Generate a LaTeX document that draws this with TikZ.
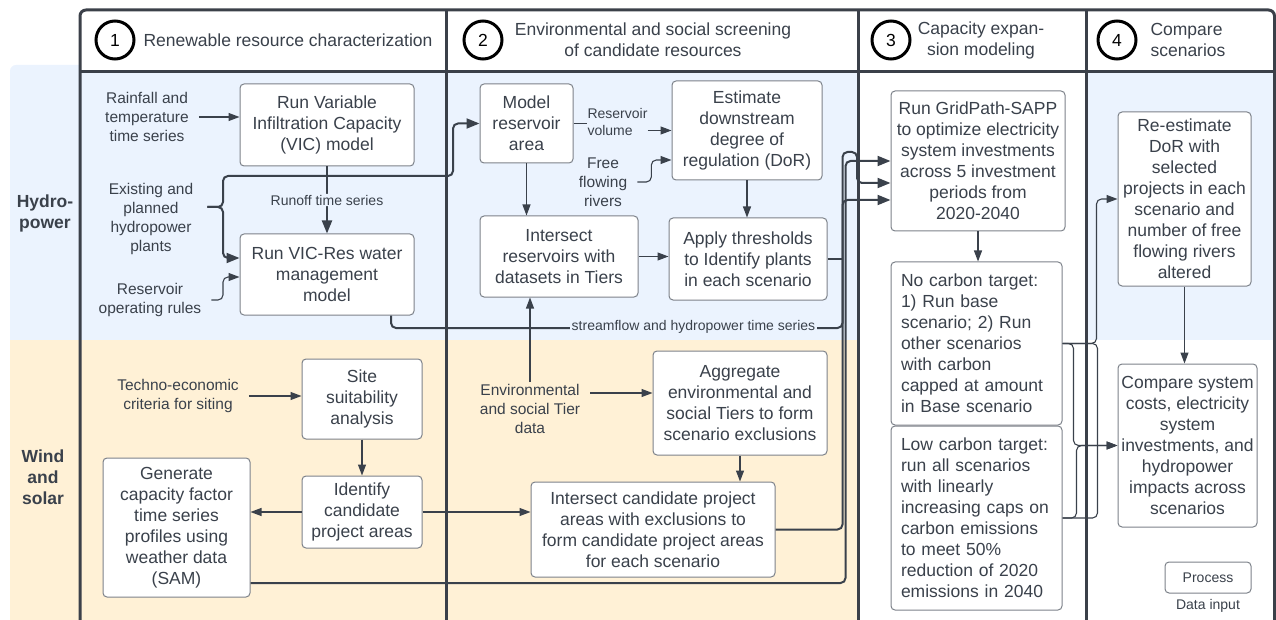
\documentclass[tikz,border=0pt]{standalone}
\usepackage{fontspec}
\setmainfont{Liberation Sans}
\usepackage{tikz}
\usetikzlibrary{arrows.meta}

\definecolor{ink}{HTML}{3A414B}
\definecolor{edgeink}{HTML}{3B4049}
\definecolor{boxgray}{HTML}{7D828A}
\definecolor{hydro}{HTML}{EBF3FE}
\definecolor{windsolar}{HTML}{FFF1D6}

\newcommand{\procfont}{\fontsize{17.5}{21}\selectfont}
\newcommand{\datafont}{\fontsize{15.5}{19}\selectfont}
\newcommand{\notefont}{\fontsize{14}{17}\selectfont}

\tikzset{
	proc/.style={draw=boxgray, fill=white, line width=1pt, rounded corners=4pt, align=center, font=\procfont, text=ink, inner sep=0pt},
	datain/.style={align=center, font=\datafont, text=ink, inner xsep=10pt, inner ysep=2pt},
	note/.style={font=\notefont, text=ink, inner sep=1pt},
	flow/.style={draw=ink, line width=2pt, rounded corners=5pt, >={Triangle[length=13pt,width=10pt]}},
	link/.style={draw=ink, line width=1.1pt, rounded corners=5pt, >={Triangle[length=11pt,width=8pt]}},
	numring/.style={circle, draw=black, line width=3pt, minimum size=38pt, inner sep=0pt, font=\procfont},
	colhead/.style={font=\procfont, text=ink, align=center},
	rowhead/.style={font=\procfont\bfseries, text=ink, align=center},
	colrule/.style={draw=edgeink, line width=3pt},
}

\begin{document}
\begin{tikzpicture}[x=1pt, y=-1pt]
	\useasboundingbox (0,0) rectangle (1276,620);

	% row bands
	\fill[hydro, rounded corners=6pt] (10,65) rectangle (859,400);
	\fill[windsolar] (10,340) rectangle (859,620);
	\fill[hydro] (1086,72) rectangle (1276,340);
	\fill[white] (80,10) rectangle (1274.5,72);

	\draw[colrule, rounded corners=6pt] (80,620) -- (80,10) -- (1274.5,10) -- (1274.5,620);
	\draw[colrule] (80,72) -- (1274.5,72);
	\draw[colrule] (446,10) -- (446,620);
	\draw[colrule] (858.5,10) -- (858.5,620);
	\draw[colrule] (1086,10) -- (1086,620);

	\node[rowhead] at (45,213) (hydrolbl) {Hydro-\\power};
	\node[rowhead] at (43,477) (windlbl) {Wind\\and\\solar};

	\node[numring] at (115,40) (num1) {1};
	\node[colhead, anchor=west] at (140,40) (head1) {Renewable resource characterization};
	\node[numring] at (483,40) (num2) {2};
	\node[colhead] at (653,40) (head2) {Environmental and social screening\\of candidate resources};
	\node[numring] at (891,40) (num3) {3};
	\node[colhead] at (981,40) (head3) {Capacity expan-\\sion modeling};
	\node[numring] at (1117,40) (num4) {4};
	\node[colhead, anchor=west, align=left] at (1147,40) (head4) {Compare\\scenarios};

	% hydropower
	\node[datain] at (147,117) (rain) {Rainfall and\\temperature\\time series};
	\node[datain, inner xsep=14pt] at (151,219) (exist) {Existing and\\planned\\hydropower\\plants};
	\node[datain] at (150,300) (oprules) {Reservoir\\operating rules};
	\node[proc, minimum width=174pt, minimum height=82pt] at (327,125) (vic) {Run Variable\\Infiltration Capacity\\(VIC) model};
	\node[proc, minimum width=174pt, minimum height=81pt] at (327,274.5) (vicres) {Run VIC-Res water\\management\\model};

	\node[proc, minimum width=93pt, minimum height=79pt] at (526.5,123.5) (model) {Model\\reservoir\\area};
	\node[proc, minimum width=150pt, minimum height=99pt] at (747,130.5) (dor) {Estimate\\downstream\\degree of\\regulation (DoR)};
	\node[proc, minimum width=158pt, minimum height=81pt] at (559,256.5) (intres) {Intersect\\reservoirs with\\datasets in Tiers};
	\node[proc, minimum width=158pt, minimum height=82pt] at (748,259) (apply) {Apply thresholds\\to Identify plants\\in each scenario};
	\node[note, align=left, inner sep=0pt] at (617.5,121.5) (resvol) {Reservoir\\volume};
	\node[datain] at (603,182) (freeflow) {Free\\flowing\\rivers};

	% wind and solar
	\node[datain] at (178,396) (techno) {Techno-economic\\criteria for siting};
	\node[proc, minimum width=120pt, minimum height=80pt] at (362,399) (site) {Site\\suitability\\analysis};
	\node[proc, minimum width=120pt, minimum height=72pt] at (362,512) (ident) {Identify\\candidate\\project areas};
	\node[proc, minimum width=147pt, minimum height=139pt] at (176.5,527.5) (gen) {Generate\\capacity factor\\time series\\profiles using\\weather data\\(SAM)};
	\node[datain] at (530,409) (envdata) {Environmental\\and social Tier\\data};
	\node[proc, minimum width=174pt, minimum height=104pt] at (740,403) (aggr) {Aggregate\\environmental and\\social Tiers to form\\scenario exclusions};
	\node[proc, minimum width=244pt, minimum height=95pt] at (653,529.5) (intcand) {Intersect candidate project\\areas with exclusions to\\form candidate project areas\\for each scenario};

	% capacity expansion and comparison
	\node[proc, minimum width=174pt, minimum height=140pt] at (978,161) (gridpath) {Run GridPath-SAPP\\to optimize electricity\\system investments\\across 5 investment\\periods from\\2020-2040};
	\node[proc, align=left, text width=151pt, inner xsep=10pt, minimum height=163pt] at (976.5,343.5) (nocarb) {No carbon target:\\1) Run base\\scenario; 2) Run\\other scenarios\\with carbon\\capped at amount\\in Base scenario};
	\node[proc, align=left, text width=151pt, inner xsep=10pt, minimum height=184pt] at (976.5,518) (lowcarb) {Low carbon target:\\run all scenarios\\with linearly\\increasing caps on\\carbon emissions\\to meet 50\%\\reduction of 2020\\emissions in 2040};
	\node[proc, minimum width=133pt, minimum height=174pt] at (1184.5,199) (reest) {Re-estimate\\DoR with\\selected\\projects in each\\scenario and\\number of free\\flowing rivers\\altered};
	\node[proc, minimum width=139pt, minimum height=163pt] at (1187.5,445.5) (compare) {Compare system\\costs, electricity\\system\\investments, and\\hydropower\\impacts across\\scenarios};

	\node[proc, font=\notefont, minimum width=86pt, minimum height=31pt] at (1208,577.5) (process) {Process};
	\node[note] at (1208,606) (datainput) {Data input};

	% connectors
	\coordinate (fork) at (223,207);
	\draw[link,->] (rain) -- (vic.west |- rain);
	\draw[flow,->] (vic) -- node[note, fill=hydro] (runoff) {Runoff time series} (vicres);
	\draw[flow,->] ([yshift=12pt]exist.east) -- (fork) |- (453,176) |- (model.west);
	\draw[flow,->] ([yshift=12pt]exist.east) -- (fork) |- ([yshift=16.5pt]vicres.west);
	\draw[link,->] (oprules.east) -- (fork |- oprules.east) |- ([yshift=-2.5pt]vicres.west);

	\draw[link] (model.east) -- (resvol.west |- model.east);
	\draw[link,->] ([yshift=-9pt]resvol.east) -- (dor.west);
	\draw[link,->] (freeflow.east) -- ++(14,0) |- ([yshift=-29.5pt]dor.west);
	\draw[link,->] (model) -- (model |- intres.north);
	\draw[link,->] (intres) -- (apply.west |- intres);
	\draw[link,->] (dor) -- (dor |- apply.north);

	\draw[link,->] (techno) -- (site.west |- techno);
	\draw[link,->] (site) -- (ident);
	\draw[link,->] (ident) -- (gen.east |- ident);
	\draw[link,->] (ident) -- (intcand.west |- ident);
	\draw[link,->] ([yshift=16pt]envdata.east) -- ([yshift=10pt]aggr.west);
	\draw[link,->] (envdata) -- (envdata |- intres.south);
	\draw[link,->] (aggr) -- (aggr |- intcand.north);

	\draw[flow,->] ([xshift=64pt]vicres.south) |- (842.5,328) -- (842.5,152) -- (857,152) -- (857,183) -- ([yshift=-22pt]gridpath.west);
	\node[note, fill=hydro, inner xsep=2pt] at (693.5,327) (streamlbl) {streamflow and hydropower time series};
	\draw[link] (apply.east) -- ++(15.5,0);
	\draw[flow,->] (intcand.east) -| (842.5,200) -- ([yshift=-39pt]gridpath.west);
	\draw[flow,->] ([yshift=-55.5pt]gen.east) -| (845.5,161) -- (gridpath.west);

	\draw[link,->] (gridpath) -- (gridpath |- nocarb.north);
	\draw[link,->] (nocarb.east) -| ([xshift=-21pt]reest.west) -- (reest.west);
	\draw[link] (lowcarb.east) -- ++(35,0) |- (nocarb.east);
	\draw[link,->] (nocarb.east) -- ++(11,0) |- (compare.west);
	\draw[link,->] (lowcarb.east) -- ++(14,0) |- (compare.west);
	\draw[link,->] (reest) -- (reest |- compare.north);
\end{tikzpicture}
\end{document}
